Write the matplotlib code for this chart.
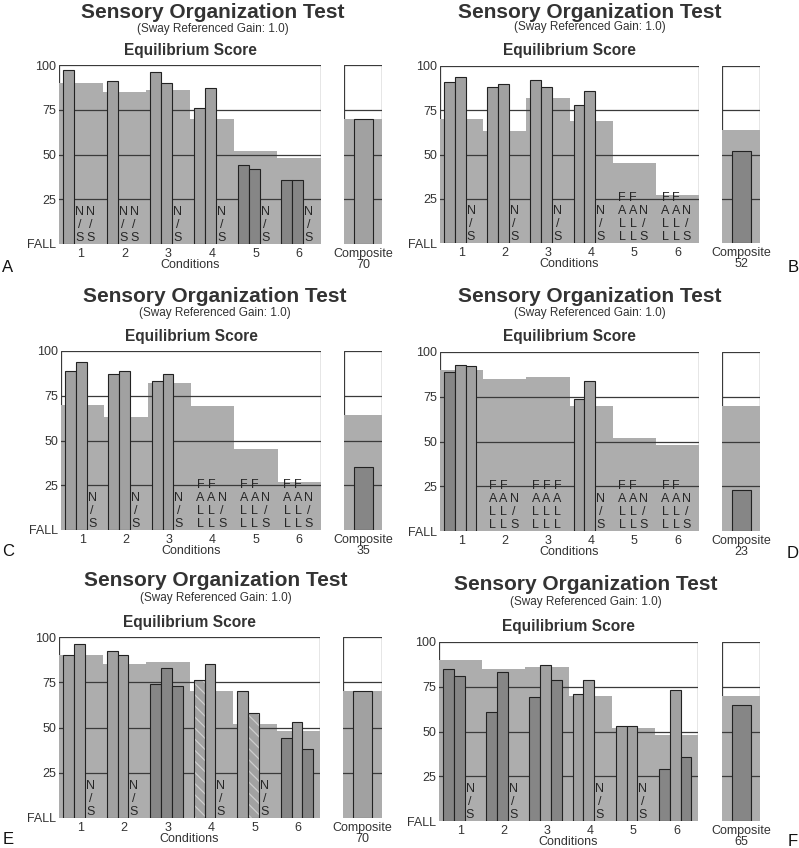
import numpy as np
import matplotlib
matplotlib.use('Agg')
import matplotlib.pyplot as plt
from matplotlib.patches import Rectangle

plt.rcParams['font.family'] = ['Liberation Sans', 'DejaVu Sans']
plt.rcParams['hatch.linewidth'] = 0.9

# data: None = N/S (not scored), 'F' = fall
conditions = [1, 2, 3, 4, 5, 6]
norm_1 = [90, 85, 86, 70, 52, 48]
norm_2 = [70, 63, 82, 69, 45, 27]

trials_a = [[97, None, None], [91, None, None], [96, 90, None],
            [76, 87, None], [44, 42, None], [36, 36, None]]
trials_b = [[91, 94, None], [88, 90, None], [92, 88, None],
            [78, 86, None], ['F', 'F', None], ['F', 'F', None]]
trials_c = [[89, 94, None], [87, 89, None], [83, 87, None],
            ['F', 'F', None], ['F', 'F', None], ['F', 'F', None]]
trials_d = [[89, 93, 92], ['F', 'F', None], ['F', 'F', 'F'],
            [74, 84, None], ['F', 'F', None], ['F', 'F', None]]
trials_e = [[90, 96, None], [92, 90, None], [74, 83, 73],
            [76, 85, None], [70, 58, None], [44, 53, 38]]
trials_f = [[85, 81, None], [61, 83, None], [69, 87, 79],
            [71, 79, None], [53, 53, None], [29, 73, 36]]
hatched_e = [(4, 1), (5, 2)]  # (condition, trial)

composite = [70, 52, 35, 23, 70, 65]
composite_norm = [70, 64, 64, 70, 70, 70]
letters = ['A', 'B', 'C', 'D', 'E', 'F']

SHADE = '#adadad'
LIGHT = '#a1a1a1'
DARK = '#868686'
LINE = '#3a3a3a'
TXT = '#333333'
offsets = [-0.28, -0.03, 0.22]

W, H = 799, 848
fig = plt.figure(figsize=(W / 100, H / 100), dpi=100)


def box(x0, y0, x1, y1):
    return [x0 / W, 1 - y1 / H, (x1 - x0) / W, (y1 - y0) / H]


def column(ax, x, chars):
    # stacked letters, bottom aligned
    for k, ch in enumerate(reversed(chars)):
        ax.annotate(ch, (x, 0), xytext=(0, 2.3 + k * 9.4), textcoords='offset points',
                    ha='center', va='baseline', fontsize=9, color='#262626', zorder=6)


def panel(main_box, comp_box, norms, trials, comp, cnorm, hatched=()):
    ax = fig.add_axes(box(*main_box))
    ax.set_xlim(0.5, 6.5)
    ax.set_ylim(0, 100)
    for s in ax.spines.values():
        s.set_visible(False)
    ax.add_patch(Rectangle((0.5, 0), 6, 100, fill=False, ec=LINE, lw=0.9, zorder=1))
    ax.stairs(norms, np.arange(0.5, 7.0, 1.0), baseline=0, fill=True, color=SHADE, zorder=2)
    for y in (25, 50, 75):
        ax.plot([0.5, 6.5], [y, y], color=LINE, lw=0.9, zorder=3)
    for i, c in enumerate(conditions):
        for j, v in enumerate(trials[i]):
            x = c + offsets[j]
            if v is None:
                column(ax, x, ['N', '/', 'S'])
            elif v == 'F':
                column(ax, x, ['F', 'A', 'L', 'L'])
            elif (c, j + 1) in hatched:
                ax.bar(x, v, 0.25, color=LIGHT, ec='#cdcdcd', hatch='\\\\\\', lw=0, zorder=4)
                ax.bar(x, v, 0.25, fill=False, ec='#222222', lw=0.8, zorder=5)
            else:
                col = DARK if v < norms[i] else LIGHT
                ax.bar(x, v, 0.25, color=col, ec='#222222', lw=0.8, zorder=4)
    ax.set_yticks([0, 25, 50, 75, 100], ['FALL', '25', '50', '75', '100'])
    ax.set_xticks(conditions, [str(c) for c in conditions])
    ax.tick_params(length=0, labelsize=9, labelcolor=TXT, pad=2)
    ax.tick_params(axis='x', pad=3)
    ax.set_xlabel('Conditions', fontsize=9, color=TXT, labelpad=-0.5)

    cx = fig.add_axes(box(*comp_box))
    cx.set_xlim(0, 1)
    cx.set_ylim(0, 100)
    for s in cx.spines.values():
        s.set_visible(False)
    cx.add_patch(Rectangle((0, 0), 1, 100, fill=False, ec=LINE, lw=0.9, zorder=1))
    cx.bar(0.5, cnorm, 1.0, color=SHADE, lw=0, zorder=2)
    for y in (25, 50, 75):
        cx.plot([0, 1], [y, y], color=LINE, lw=0.9, zorder=3)
    cx.bar(0.505, comp, 0.49, color=DARK if comp < cnorm else LIGHT,
           ec='#222222', lw=0.8, zorder=4)
    cx.set_yticks([])
    cx.set_xticks([0.5], ['Composite\n%d' % comp])
    cx.tick_params(length=0, labelsize=9, labelcolor=TXT, pad=3)
    for t in cx.get_xticklabels():
        t.set_linespacing(0.9)
    return ax


def titles(xc_top, xc_eq, y1, y2, y3):
    fig.text(xc_top / W, 1 - y1 / H, 'Sensory Organization Test', ha='center', va='center',
             fontsize=15, fontweight='bold', color=TXT)
    fig.text(xc_top / W, 1 - y2 / H, '(Sway Referenced Gain: 1.0)', ha='center', va='center',
             fontsize=8.5, color=TXT)
    fig.text(xc_eq / W, 1 - y3 / H, 'Equilibrium Score', ha='center', va='center',
             fontsize=11.2, fontweight='bold', color=TXT)


panel((59, 65, 321, 244), (344, 65, 382, 244), norm_1, trials_a, composite[0], composite_norm[0])
panel((440, 66, 699, 243), (722, 66, 760, 243), norm_2, trials_b, composite[1], composite_norm[1])
panel((61, 351, 321, 530), (344, 351, 382, 530), norm_2, trials_c, composite[2], composite_norm[2])
panel((440, 352, 699, 531), (722, 352, 760, 531), norm_1, trials_d, composite[3], composite_norm[3])
panel((59, 637, 320, 818), (343, 637, 382, 818), norm_1, trials_e, composite[4], composite_norm[4],
      hatched=hatched_e)
panel((439, 642, 698, 821), (722, 642, 760, 821), norm_1, trials_f, composite[5], composite_norm[5])

titles(213, 190, 13, 29, 50)
titles(590, 569, 13, 27, 50)
titles(215, 191, 296, 313, 337)
titles(590, 569, 296, 313, 337)
titles(216, 189, 581, 598, 622)
titles(586, 568, 585, 602, 627)

for lab, (x, y) in zip(letters, [(8, 267), (793, 267), (8, 552), (793, 553), (8, 840), (793, 841)]):
    fig.text(x / W, 1 - y / H, lab, ha='center', va='center', fontsize=12, color='#111111')

fig.savefig('out.png', dpi=100)
